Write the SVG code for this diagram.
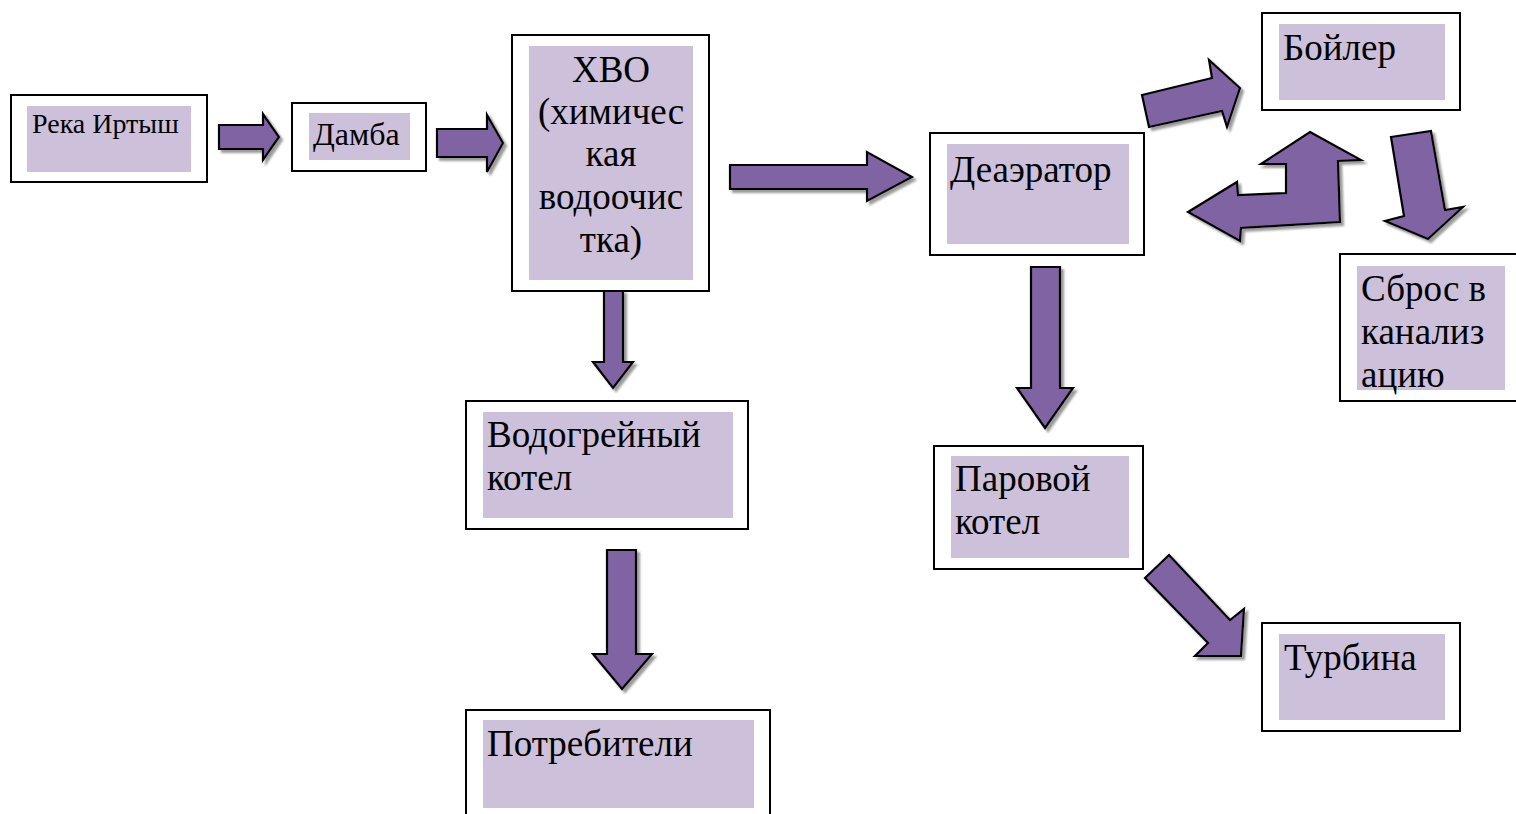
<svg xmlns="http://www.w3.org/2000/svg" width="1516" height="814" viewBox="0 0 1516 814">
<style>
.box{fill:#fff;stroke:#000;stroke-width:2}
.in{fill:#ccc0da}
.t{font-family:"Liberation Serif","Times New Roman",serif;font-size:37px;fill:#000}
.arr{fill:#8064a2;stroke:#000;stroke-width:2.2;stroke-linejoin:miter;filter:url(#sh)}
</style>
<defs>
<filter id="sh" x="-20%" y="-20%" width="140%" height="140%">
<feGaussianBlur in="SourceAlpha" stdDeviation="0.8" result="b"/>
<feOffset in="b" dx="3" dy="3" result="o"/>
<feFlood flood-color="#7a7a7a" flood-opacity="0.75"/>
<feComposite in2="o" operator="in" result="s"/>
<feMerge><feMergeNode in="s"/><feMergeNode in="SourceGraphic"/></feMerge>
</filter>
</defs>
<rect width="1516" height="814" fill="#fff"/>

<g id="connectors">
<polygon class="arr" points="219,125 263,125 263,114 279,137 263,160 263,149 219,149"/>
<polygon class="arr" points="437,129 487,129 487,115 503,143 487,172 487,157 437,157"/>
<polygon class="arr" points="730,165 867,165 867,152 912,177 867,201 867,189 730,189"/>
<polygon class="arr" points="604,291 623,291 623,362 633,362 613,388 593,362 604,362"/>
<polygon class="arr" points="607,550 636,550 636,654 652,654 622,689 593,654 607,654"/>
<polygon class="arr" points="1031,267 1060,267 1060,388 1073,388 1045,428 1017,388 1031,388"/>
<polygon class="arr" points="1142,95 1212,78 1209,60 1240,88 1227,127 1222,111 1149,127"/>
<polygon class="arr" points="1391,137 1431,131 1445,210 1463,207 1428,239 1385,221 1404,216"/>
<polygon class="arr" points="1310,132 1361,160 1338,161 1340,222 1241,228 1240,241 1188,212 1237,182 1238,195 1286,193 1286,164 1261,164"/>
<polygon class="arr" points="1169,555 1230,620 1244,609 1241,656 1195,656 1208,643 1145,578"/>
</g>

<g id="reka">
<rect class="box" x="11" y="95" width="196" height="87"/>
<rect class="in" x="27" y="106" width="164" height="66"/>
<text class="t" x="32" y="133" style="font-size:28px">Река Иртыш</text>
</g>
<g id="damba">
<rect class="box" x="292" y="103" width="134" height="68"/>
<rect class="in" x="309" y="113" width="101" height="47"/>
<text class="t" x="313" y="145" style="font-size:32px">Дамба</text>
</g>
<g id="hvo">
<rect class="box" x="512" y="35" width="197" height="256"/>
<rect class="in" x="529" y="46" width="164" height="234"/>
<text class="t" text-anchor="middle"><tspan x="611" y="82">ХВО</tspan><tspan x="611" y="124">(химичес</tspan><tspan x="611" y="166">кая</tspan><tspan x="611" y="209">водоочис</tspan><tspan x="611" y="252">тка)</tspan></text>
</g>
<g id="deaerator">
<rect class="box" x="930" y="133" width="214" height="122"/>
<rect class="in" x="947" y="144" width="182" height="100"/>
<text class="t" x="950" y="182">Деаэратор</text>
</g>
<g id="boiler">
<rect class="box" x="1262" y="13" width="198" height="97"/>
<rect class="in" x="1279" y="24" width="166" height="76"/>
<text class="t" x="1283" y="60">Бойлер</text>
</g>
<g id="sbros">
<rect class="box" x="1340" y="254" width="180" height="147"/>
<rect class="in" x="1357" y="266" width="148" height="124"/>
<text class="t"><tspan x="1361" y="301">Сброс в</tspan><tspan x="1361" y="344">канализ</tspan><tspan x="1361" y="387">ацию</tspan></text>
</g>
<g id="vodogreiny">
<rect class="box" x="466" y="401" width="282" height="128"/>
<rect class="in" x="483" y="412" width="250" height="106"/>
<text class="t"><tspan x="487" y="447">Водогрейный</tspan><tspan x="487" y="490">котел</tspan></text>
</g>
<g id="parovoy">
<rect class="box" x="934" y="446" width="209" height="123"/>
<rect class="in" x="951" y="456" width="178" height="102"/>
<text class="t"><tspan x="955" y="491">Паровой</tspan><tspan x="955" y="534">котел</tspan></text>
</g>
<g id="turbina">
<rect class="box" x="1262" y="623" width="198" height="108"/>
<rect class="in" x="1279" y="634" width="166" height="86"/>
<text class="t" x="1284" y="670">Турбина</text>
</g>
<g id="potrebiteli">
<rect class="box" x="466" y="710" width="304" height="110"/>
<rect class="in" x="483" y="720" width="271" height="88"/>
<text class="t" x="487" y="756">Потребители</text>
</g>
</svg>
